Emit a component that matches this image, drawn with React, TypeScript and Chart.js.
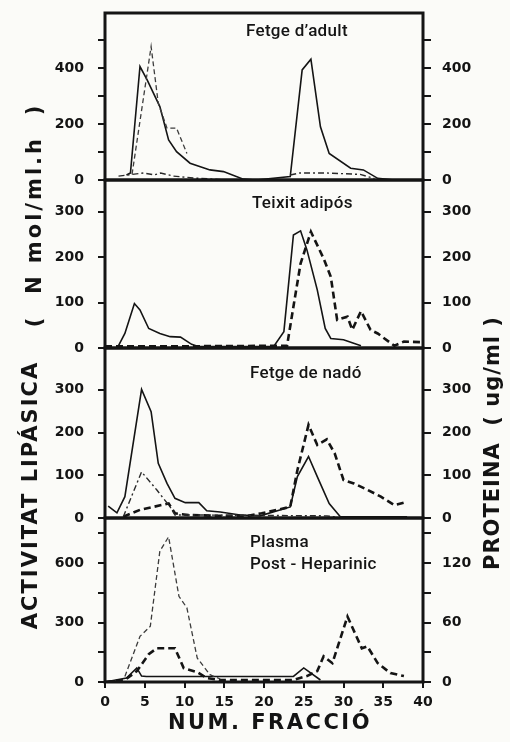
import React, { useEffect, useRef } from 'react';
import { Chart, registerables } from 'chart.js';

Chart.register(...registerables);

// ---------- data ----------
const xTickValues = [0, 5, 10, 15, 20, 25, 30, 35, 40];

// Panel 1: Fetge d'adult
const p1SolidX = [2.7, 3.2, 4.4, 5.3, 6.9, 8.0, 9.0, 10.7, 13.2, 14.9, 17.4, 19.0, 23.3, 24.8, 25.9, 27.1, 28.2, 30.9, 32.5, 34.3, 36.4];
const p1SolidY = [18, 25, 405, 357, 262, 143, 101, 60, 36, 30, 3, 0, 12, 393, 431, 190, 95, 42, 36, 6, 0];
const p1ThinX = [3.4, 5.8, 6.7, 7.8, 9.0, 10.3];
const p1ThinY = [20, 476, 274, 185, 185, 95];
const p1DotX = [1.7, 3.4, 4.9, 6.2, 7.0, 8.6, 11.2, 15.4, 19.0, 23.3, 24.5, 27.9, 32.1, 33.9];
const p1DotY = [14, 20, 25, 18, 25, 14, 7, 0, null, 18, 25, 25, 20, 5];

// Panel 2: Teixit adipós
const p2SolidX = [1.7, 2.5, 3.7, 4.4, 5.5, 6.9, 8.2, 9.5, 10.9, 11.8, 21.2, 22.5, 23.7, 24.6, 25.4, 26.7, 27.7, 28.4, 30.0, 32.2];
const p2SolidY = [5, 32, 98, 84, 43, 32, 25, 24, 8, 3, 3, 36, 249, 258, 216, 128, 43, 21, 18, 5];
const p2ThickX = [0, 12, 22.9, 23.7, 24.6, 25.9, 27.5, 28.4, 29.2, 30.5, 31.1, 32.2, 33.4, 34.3, 36.4, 37.6, 39.7];
const p2ThickY = [4, 4, 5, 91, 186, 256, 197, 157, 62, 69, 40, 81, 40, 32, 5, 14, 13];

// Panel 3: Fetge de nadó
const p3SolidX = [0.4, 1.5, 2.5, 4.6, 5.8, 6.7, 7.8, 8.8, 10.1, 11.8, 12.8, 14.5, 17.0, 19.5, 23.3, 24.2, 25.6, 26.7, 28.2, 29.6, 38.0];
const p3SolidY = [28, 12, 50, 301, 249, 128, 81, 46, 36, 36, 17, 14, 7, 5, 26, 97, 144, 97, 34, 3, 3];
const p3ThickX = [2.3, 4.4, 8.0, 8.8, 10.5, 14.7, 18.0, 19.7, 23.3, 24.2, 25.6, 26.7, 27.9, 28.9, 30.0, 31.3, 33.0, 34.7, 36.4, 38.0];
const p3ThickY = [3, 19, 34, 11, 7, 5, 5, 11, 26, 112, 218, 171, 184, 151, 89, 81, 66, 50, 30, 38];
const p3ThinX = [2.3, 4.6, 6.5, 8.2, 8.8, 12.0, 27.9, 29.1];
const p3ThinY = [3, 108, 66, 26, 7, 7, 5, 2];

// Panel 4: Plasma Post-Heparinic
const p4ThinX = [2.5, 4.4, 5.7, 6.9, 8.0, 9.3, 10.3, 11.6, 13.2, 14.5];
const p4ThinY = [28, 230, 281, 660, 732, 432, 374, 121, 37, 15];
const p4ThickX = [0, 2.5, 4.0, 5.5, 6.5, 8.8, 9.9, 11.6, 12.8, 14.5, 23.7, 25.4, 26.7, 27.5, 28.6, 30.5, 32.3, 33.0, 34.3, 35.9, 37.6];
const p4ThickY = [0, 2, 11, 28, 34, 34, 14, 10, 4, 2, 2, 6, 11, 26, 19, 66, 34, 36, 19, 9, 6];
const p4SolidX = [0, 2.7, 4.0, 4.6, 5.2, 23.7, 25.0, 27.1];
const p4SolidY = [0, 20, 71, 30, 28, 28, 71, 10];

// axis ticks / labels
const p1Ticks = [0, 100, 200, 300, 400, 500];
const p1Labels = [0, 200, 400];
const p2Ticks = [0, 100, 200, 300];
const p3Ticks = [0, 100, 200, 300];
const p4LeftTicks = [0, 150, 300, 450, 600, 750];
const p4LeftLabels = [0, 300, 600];
const p4RightTicks = [0, 30, 60, 90, 120, 150];
const p4RightLabels = [0, 60, 120];

// ---------- styles ----------
const INK = '#141414';
const STYLES: Record<string, any> = {
  solid: { borderColor: INK, borderWidth: 1.6, borderDash: [] },
  thick: { borderColor: INK, borderWidth: 2.6, borderDash: [7, 4] },
  thin: { borderColor: '#3c3c3c', borderWidth: 1.3, borderDash: [5, 3] },
  dashdot: { borderColor: '#2a2a2a', borderWidth: 1.4, borderDash: [6, 3, 2, 3] },
};

type Series = { xs: number[]; ys: (number | null)[]; style: string; axis: 'yL' | 'yR' };
type PanelCfg = {
  top: number; bottom: number;
  leftMax: number; rightMax: number;
  leftTicks: number[]; leftLabels: number[];
  rightTicks: number[]; rightLabels: number[];
  series: Series[]; showX: boolean;
};

const zip = (xs: number[], ys: (number | null)[]) => xs.map((x, i) => ({ x, y: ys[i] }));

const PANELS: PanelCfg[] = [
  {
    top: 13, bottom: 180, leftMax: 596, rightMax: 596,
    leftTicks: p1Ticks, leftLabels: p1Labels, rightTicks: p1Ticks, rightLabels: p1Labels,
    showX: false,
    series: [
      { xs: p1DotX, ys: p1DotY, style: 'dashdot', axis: 'yL' },
      { xs: p1ThinX, ys: p1ThinY, style: 'thin', axis: 'yR' },
      { xs: p1SolidX, ys: p1SolidY, style: 'solid', axis: 'yL' },
    ],
  },
  {
    top: 180, bottom: 348, leftMax: 370, rightMax: 370,
    leftTicks: p2Ticks, leftLabels: p2Ticks, rightTicks: p2Ticks, rightLabels: p2Ticks,
    showX: false,
    series: [
      { xs: p2ThickX, ys: p2ThickY, style: 'thick', axis: 'yR' },
      { xs: p2SolidX, ys: p2SolidY, style: 'solid', axis: 'yL' },
    ],
  },
  {
    top: 348, bottom: 518, leftMax: 398, rightMax: 398,
    leftTicks: p3Ticks, leftLabels: p3Ticks, rightTicks: p3Ticks, rightLabels: p3Ticks,
    showX: false,
    series: [
      { xs: p3ThinX, ys: p3ThinY, style: 'dashdot', axis: 'yL' },
      { xs: p3ThickX, ys: p3ThickY, style: 'thick', axis: 'yR' },
      { xs: p3SolidX, ys: p3SolidY, style: 'solid', axis: 'yL' },
    ],
  },
  {
    top: 518, bottom: 682, leftMax: 827, rightMax: 165.4,
    leftTicks: p4LeftTicks, leftLabels: p4LeftLabels, rightTicks: p4RightTicks, rightLabels: p4RightLabels,
    showX: true,
    series: [
      { xs: p4ThinX, ys: p4ThinY, style: 'thin', axis: 'yL' },
      { xs: p4ThickX, ys: p4ThickY, style: 'thick', axis: 'yR' },
      { xs: p4SolidX, ys: p4SolidY, style: 'solid', axis: 'yL' },
    ],
  },
];

const PAD = 30;
const X_AXIS_H = 36;
const PLOT_LEFT = 105;
const PLOT_RIGHT = 423;
const W = 510;
const TICK_FONT = { family: '"DejaVu Sans", sans-serif', size: 14, weight: 'bold' as const };

const framePlugin = {
  id: 'frame',
  afterDraw(chart: any) {
    const { ctx, chartArea } = chart;
    const { left, top, right, bottom } = chartArea;
    ctx.save();
    ctx.strokeStyle = INK;
    ctx.lineWidth = 3;
    ctx.strokeRect(left, top, right - left, bottom - top);
    ctx.restore();
  },
};

function Panel({ cfg }: { cfg: PanelCfg }) {
  const ref = useRef<HTMLCanvasElement | null>(null);
  const h = cfg.bottom - cfg.top + PAD + (cfg.showX ? X_AXIS_H : PAD);

  useEffect(() => {
    if (!ref.current) return;
    const yAxis = (pos: 'left' | 'right', max: number, ticks: number[], labels: number[]) => ({
      type: 'linear',
      position: pos,
      min: 0,
      max,
      afterFit: (s: any) => { s.width = pos === 'left' ? PLOT_LEFT : W - PLOT_RIGHT; },
      afterBuildTicks: (s: any) => { s.ticks = ticks.map((v) => ({ value: v })); },
      ticks: {
        callback: (v: any) => (labels.includes(Number(v)) ? String(v) : ''),
        font: TICK_FONT,
        color: INK,
        padding: pos === 'left' ? 14 : 11,
        autoSkip: false,
      },
      grid: { drawOnChartArea: false, drawTicks: true, tickLength: pos === 'left' ? 7 : 8, color: INK, lineWidth: 2 },
      border: { display: false },
    });

    const xAxis: any = {
      type: 'linear',
      min: 0,
      max: 40,
      display: cfg.showX,
      afterBuildTicks: (s: any) => { s.ticks = xTickValues.map((v) => ({ value: v })); },
      ticks: { font: TICK_FONT, color: INK, padding: 6, maxRotation: 0, autoSkip: false },
      grid: { drawOnChartArea: false, drawTicks: true, tickLength: 6, color: INK, lineWidth: 2 },
      border: { display: false },
    };
    if (cfg.showX) xAxis.afterFit = (s: any) => { s.height = X_AXIS_H; };

    const chart = new Chart(ref.current, {
      type: 'line',
      data: {
        datasets: cfg.series.map((s) => ({
          data: zip(s.xs, s.ys),
          yAxisID: s.axis,
          pointRadius: 0,
          tension: 0,
          fill: false,
          spanGaps: false,
          ...STYLES[s.style],
        })),
      },
      options: {
        animation: false,
        responsive: false,
        maintainAspectRatio: false,
        events: [],
        layout: { autoPadding: false, padding: { left: 0, right: 0, top: PAD, bottom: cfg.showX ? 0 : PAD } },
        plugins: { legend: { display: false }, tooltip: { enabled: false }, title: { display: false } },
        scales: {
          x: xAxis,
          yL: yAxis('left', cfg.leftMax, cfg.leftTicks, cfg.leftLabels),
          yR: yAxis('right', cfg.rightMax, cfg.rightTicks, cfg.rightLabels),
        },
      } as any,
      plugins: [framePlugin],
    });
    return () => chart.destroy();
  }, []);

  return (
    <canvas
      ref={ref}
      width={W}
      height={h}
      style={{ position: 'absolute', left: 0, top: cfg.top - PAD, width: W, height: h }}
    />
  );
}

const TITLE_FONT: React.CSSProperties = {
  position: 'absolute',
  fontFamily: 'Roboto, "Liberation Sans", sans-serif',
  fontWeight: 500,
  fontSize: 17,
  color: INK,
  whiteSpace: 'nowrap',
  lineHeight: '20px',
  letterSpacing: 0.3,
};

const BIG: React.CSSProperties = {
  position: 'absolute',
  fontFamily: '"DejaVu Sans", sans-serif',
  fontWeight: 'bold',
  fontSize: 21,
  color: INK,
  whiteSpace: 'pre',
  lineHeight: '24px',
  textAlign: 'center',
};

function Rotated({ text, cx, cy, len, spacing }: { text: string; cx: number; cy: number; len: number; spacing: number }) {
  return (
    <div
      style={{
        ...BIG,
        width: len,
        height: 24,
        left: cx - len / 2,
        top: cy - 12,
        letterSpacing: spacing,
        transform: 'rotate(-90deg)',
        transformOrigin: '50% 50%',
      }}
    >
      {text}
    </div>
  );
}

export default function App() {
  return (
    <div style={{ position: 'absolute', left: 0, top: 0, width: W, height: 742, background: '#fbfbf8', overflow: 'hidden' }}>
      {PANELS.map((p, i) => (
        <Panel key={i} cfg={p} />
      ))}
      <div style={{ ...TITLE_FONT, left: 246, top: 20 }}>Fetge d&#8217;adult</div>
      <div style={{ ...TITLE_FONT, left: 252, top: 192 }}>Teixit adipós</div>
      <div style={{ ...TITLE_FONT, left: 250, top: 362 }}>Fetge de nadó</div>
      <div style={{ ...TITLE_FONT, left: 250, top: 531 }}>Plasma</div>
      <div style={{ ...TITLE_FONT, left: 250, top: 553 }}>Post - Heparinic</div>

      <Rotated text="ACTIVITAT LIPÁSICA" cx={30} cy={495} len={290} spacing={2} />
      <Rotated text={'(  N mol/ml.h  )'} cx={34} cy={215} len={270} spacing={3} />
      <Rotated text="PROTEINA  ( ug/ml )" cx={492} cy={450} len={240} spacing={1} />

      <div style={{ ...BIG, left: 120, width: 300, top: 710, letterSpacing: 2.5 }}>NUM. FRACCIÓ</div>
    </div>
  );
}
